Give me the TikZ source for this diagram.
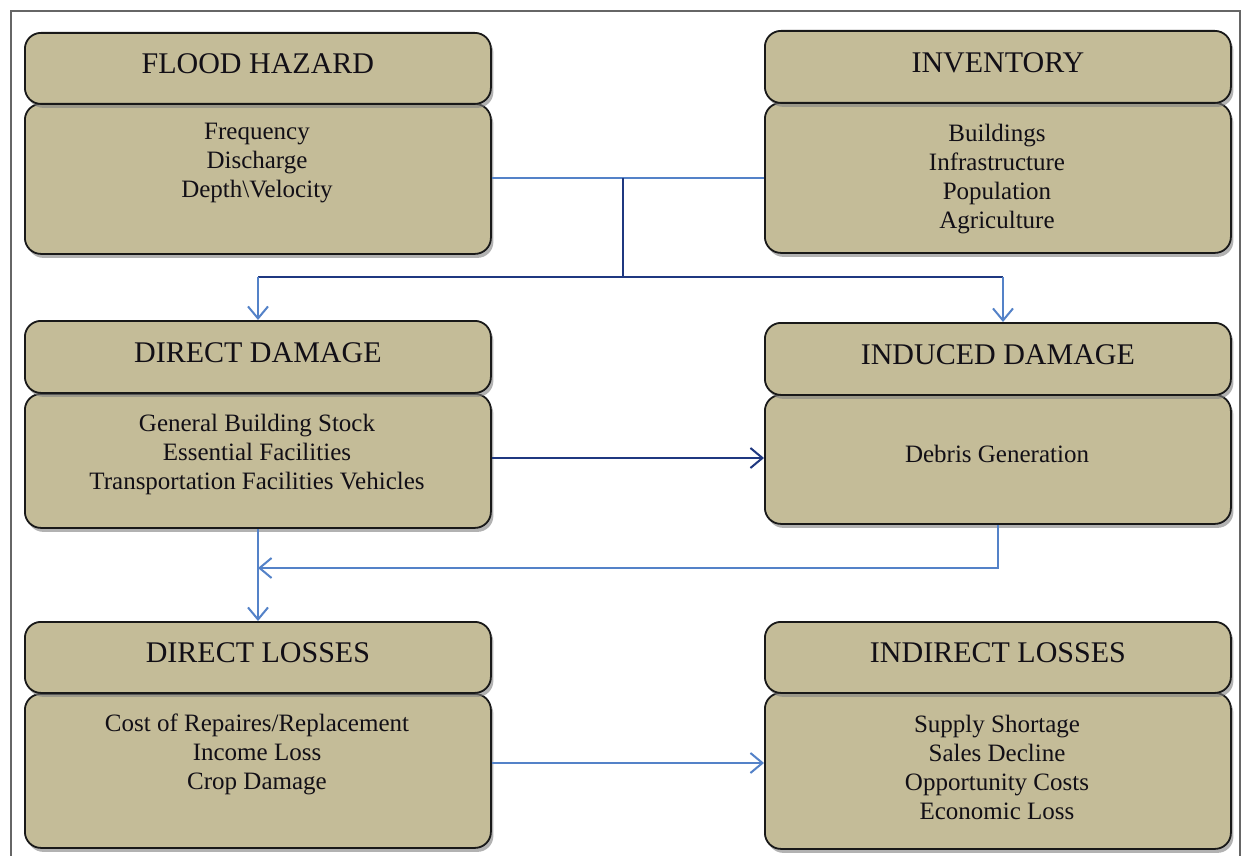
\documentclass[tikz,border=0pt]{standalone}
\usepackage{fontspec}
\setmainfont{Liberation Serif}
\usetikzlibrary{arrows.meta,shadows}
\definecolor{boxfill}{RGB}{196,188,152}
\definecolor{lblue}{RGB}{84,130,200}
\definecolor{navy}{RGB}{31,56,128}
\definecolor{txt}{RGB}{18,15,22}
\tikzset{
  panel/.style={draw=black!90, line width=1.8pt, fill=boxfill, rounded corners=16pt,
    minimum width=466pt, anchor=north west, inner sep=0pt,
    drop shadow={shadow xshift=2.5pt, shadow yshift=-4pt, fill=black!50, opacity=0.6}},
  hdr/.style={panel, font=\fontsize{30}{30}\selectfont, text=txt,
    text height=20pt, text depth=9pt},
  bodytxt/.style={align=center, text=txt, font=\fontsize{25}{29}\selectfont, inner sep=0pt},
  lbline/.style={draw=lblue, line width=1.5pt},
  nvline/.style={draw=navy, line width=1.5pt},
  tip/.style={-{Straight Barb[length=12pt,width=20pt,line width=2pt]}},
}
\begin{document}
\begin{tikzpicture}[x=1pt,y=-1pt]
\useasboundingbox (0,0) rectangle (1243,856);
\fill[white] (0,0) rectangle (1243,856);
% outer frame
\draw[black!60, line width=1.3pt] (11,870) -- (11,11) -- (1240,11) -- (1240,870);
% ---- row 1
\node[panel, minimum height=150pt] (fhb) at (24,103) {};
\node[hdr, minimum height=71pt] (fhh) at (24,32) {FLOOD HAZARD};
\node[bodytxt] (fht) at (257,163) {Frequency\\Discharge\\Depth\textbackslash Velocity};
\node[panel, minimum height=150pt] (invb) at (764,102) {};
\node[hdr, minimum height=72pt] (invh) at (764,30) {INVENTORY};
\node[bodytxt] (invt) at (997,179) {Buildings\\Infrastructure\\Population\\Agriculture};
% ---- row 2
\node[panel, minimum height=134pt] (ddb) at (24,393) {};
\node[hdr, minimum height=72pt] (ddh) at (24,320) {DIRECT DAMAGE};
\node[bodytxt] (ddt) at (257,454) {General Building Stock\\Essential Facilities\\Transportation Facilities Vehicles};
\node[panel, minimum height=129pt] (idb) at (764,394) {};
\node[hdr, minimum height=72pt] (idh) at (764,322) {INDUCED DAMAGE};
\node[bodytxt] (idt) at (997,454) {Debris Generation};
% ---- row 3
\node[panel, minimum height=154pt] (dlb) at (24,693) {};
\node[hdr, minimum height=71pt] (dlh) at (24,621) {DIRECT LOSSES};
\node[bodytxt] (dlt) at (257,754) {Cost of Repaires/Replacement\\Income Loss\\Crop Damage};
\node[panel, minimum height=156pt] (ilb) at (764,692) {};
\node[hdr, minimum height=71pt] (ilh) at (764,621) {INDIRECT LOSSES};
\node[bodytxt] (ilt) at (997,767) {Supply Shortage\\Sales Decline\\Opportunity Costs\\Economic Loss};
% ---- connectors
\coordinate (j1) at (623,178);
\coordinate (j2) at (623,277);
\coordinate (jl) at (258,277);
\coordinate (jr) at (1003,277);
\coordinate (m) at (258,568);
\draw[lbline] (fhb.east |- j1) -- (invb.west |- j1);
\draw[nvline] (j1) -- (j2);
\draw[nvline] (jl) -- (jr);
\draw[lbline, tip] (jl) -- (jl |- ddh.north);
\draw[lbline, tip] (jr) -- (jr |- idh.north);
\draw[nvline, tip] (ddb.east |- 0,458) -- (idb.west |- 0,458);
\draw[lbline, tip] (idb.south) |- (m);
\draw[lbline, tip] (ddb.south -| m) -- (dlh.north -| m);
\draw[lbline, tip] (dlb.east |- 0,763) -- (ilb.west |- 0,763);
\end{tikzpicture}
\end{document}
